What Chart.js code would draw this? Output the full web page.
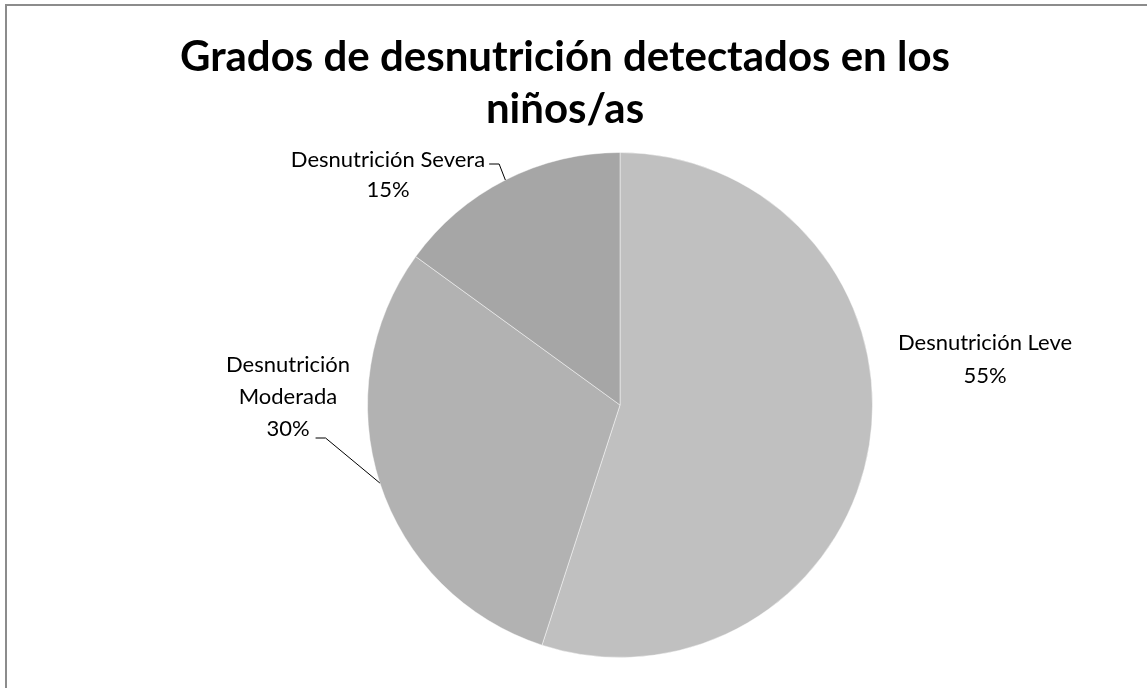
<!DOCTYPE html>
<html>
<head>
<meta charset="utf-8">
<script src="https://cdn.jsdelivr.net/npm/chart.js@4"></script>
<style>
  body { margin: 0; background: #fff; }
  #wrap { position: relative; width: 1147px; height: 688px; overflow: hidden; }
  #frame { position: absolute; left: 5px; top: 4px; width: 1200px; height: 700px;
           border-top: 2px solid #8c8c8c; border-left: 2px solid #8c8c8c; }
  #canvas { position: absolute; left: 0; top: 0; }
</style>
</head>
<body>
<div id="wrap">
  <div id="frame"></div>
  <canvas id="canvas" width="1147" height="688"></canvas>
</div>
<script>
// data
var categories = ["Desnutrición Leve", "Desnutrición Moderada", "Desnutrición Severa"];
var percentages = [55, 30, 15];
var sliceColors = ["#c0c0c0", "#b2b2b2", "#a6a6a6"];
var titleLines = ["Grados de desnutrición detectados en los", "niños/as"];

// label text lines for each slice (name split like in the original)
var labelLines = [
    ["Desnutrición Leve", "55%"],
    ["Desnutrición", "Moderada", "30%"],
    ["Desnutrición Severa", "15%"]
];

// where each label sits, relative to pie centre
var labelSpots = [
    { dx: 365, dy: -55, gap: 33, leader: false },
    { dx: -332, dy: -33, gap: 32, leader: true },
    { dx: -232, dy: -238, gap: 30, leader: true }
];

var titlePlugin = {
    id: "titleAndLabels",
    afterDraw: function(chart) {
        var ctx = chart.ctx;
        ctx.save();
        ctx.fillStyle = "#000";
        ctx.textAlign = "center";
        ctx.textBaseline = "alphabetic";
        ctx.font = "bold 42px Lato";
        ctx.fillText(titleLines[0], 565, 71);
        ctx.fillText(titleLines[1], 565, 123);

        var meta = chart.getDatasetMeta(0);
        ctx.font = "22px Lato";
        ctx.strokeStyle = "#000";
        ctx.lineWidth = 1;
        meta.data.forEach(function(arc, i) {
            var p = arc.getProps(["x", "y", "startAngle", "endAngle", "outerRadius"], true);
            var spot = labelSpots[i];
            var lines = labelLines[i];
            var baseX = p.x + spot.dx;
            var baseY = p.y + spot.dy;
            lines.forEach(function(t, k) {
                ctx.fillText(t, baseX, baseY + k * spot.gap);
            });
            if (spot.leader) {
                var mid = (p.startAngle + p.endAngle) / 2;
                var ex = p.x + Math.cos(mid) * p.outerRadius;
                var ey = p.y + Math.sin(mid) * p.outerRadius;
                var last = lines.length - 1;
                var sx, sy;
                if (i === 2) {
                    sx = baseX + ctx.measureText(lines[0]).width / 2 + 4;
                    sy = baseY - 3;
                } else {
                    sx = baseX + ctx.measureText(lines[last]).width / 2 + 6;
                    sy = baseY + last * spot.gap + 2;
                }
                ctx.beginPath();
                ctx.moveTo(sx, sy);
                ctx.lineTo(sx + 10, sy);
                ctx.lineTo(ex, ey);
                ctx.stroke();
            }
        });
        ctx.restore();
    }
};

var ctx = document.getElementById("canvas").getContext("2d");
new Chart(ctx, {
    type: "pie",
    data: {
        labels: categories,
        datasets: [{
            data: percentages,
            backgroundColor: sliceColors,
            borderColor: "rgba(255,255,255,0.45)",
            borderWidth: 1
        }]
    },
    options: {
        responsive: false,
        animation: false,
        events: [],
        layout: { padding: { top: 152, bottom: 30, left: 367, right: 274 } },
        plugins: {
            legend: { display: false },
            tooltip: { enabled: false },
            title: { display: false }
        }
    },
    plugins: [titlePlugin]
});
</script>
</body>
</html>
